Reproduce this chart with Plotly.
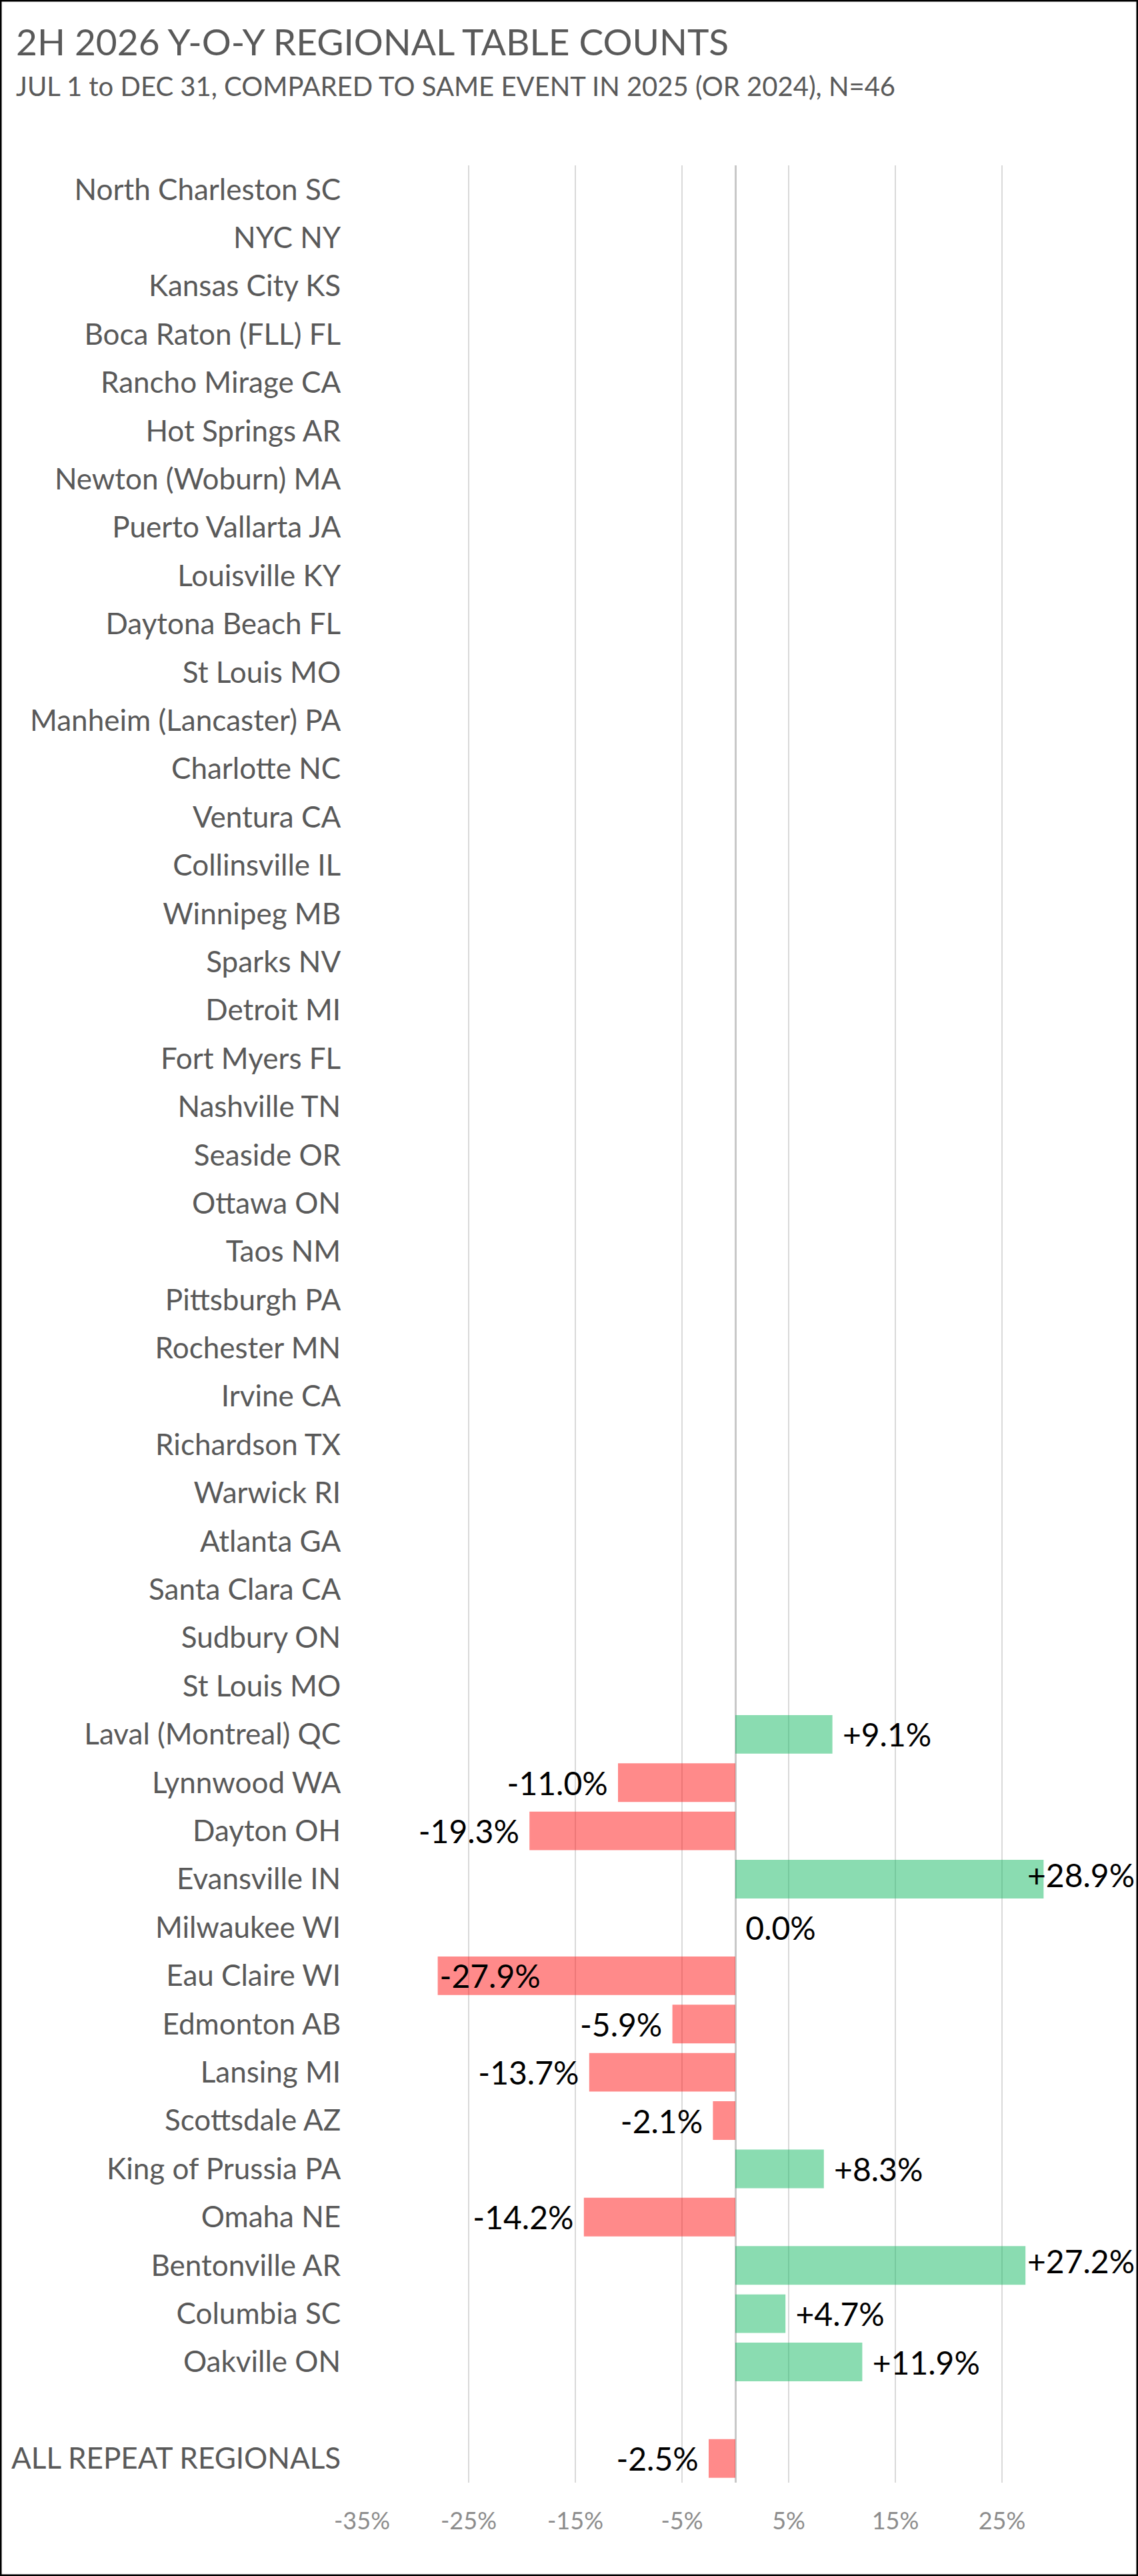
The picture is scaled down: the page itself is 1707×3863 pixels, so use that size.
import plotly.graph_objects as go

# ---- data ----
regions = [
    "North Charleston SC", "NYC NY", "Kansas City KS", "Boca Raton (FLL) FL",
    "Rancho Mirage CA", "Hot Springs AR", "Newton (Woburn) MA", "Puerto Vallarta JA",
    "Louisville KY", "Daytona Beach FL", "St Louis MO", "Manheim (Lancaster) PA",
    "Charlotte NC", "Ventura CA", "Collinsville IL", "Winnipeg MB", "Sparks NV",
    "Detroit MI", "Fort Myers FL", "Nashville TN", "Seaside OR", "Ottawa ON",
    "Taos NM", "Pittsburgh PA", "Rochester MN", "Irvine CA", "Richardson TX",
    "Warwick RI", "Atlanta GA", "Santa Clara CA", "Sudbury ON", "St Louis MO",
    "Laval (Montreal) QC", "Lynnwood WA", "Dayton OH", "Evansville IN",
    "Milwaukee WI", "Eau Claire WI", "Edmonton AB", "Lansing MI", "Scottsdale AZ",
    "King of Prussia PA", "Omaha NE", "Bentonville AR", "Columbia SC", "Oakville ON",
    "", "ALL REPEAT REGIONALS",
]
# percent change vs prior year; None = no comparison yet
yoy_pct = [None] * 32 + [
    9.1, -11.0, -19.3, 28.9, 0.0, -27.9, -5.9, -13.7, -2.1, 8.3, -14.2, 27.2, 4.7, 11.9,
    None, -2.5,
]
x_ticks = [-35, -25, -15, -5, 5, 15, 25]
x_tick_labels = ["-35%", "-25%", "-15%", "-5%", "5%", "15%", "25%"]

# ---- geometry (pixels) ----
W, H = 1707, 3863
ML, MT, MB = 543, 248, 140
PW, PH = W - ML, H - MT - MB
X_MIN = -35
PX_PER_PCT = 16.0                      # 10 % per 160 px, as in the original
X_MAX = X_MIN + PW / PX_PER_PCT        # plot area runs to the chart's right edge
LABEL_ROOM = 10.8                      # width of a "+xx.x%" label, in % units


def py(y_px):
    """pixel row from the top of the figure -> paper y"""
    return 1 - (y_px - MT) / PH


def px(x_px):
    return (x_px - ML) / PW


GREEN = "rgba(22,185,100,0.5)"
RED = "rgba(255,22,22,0.5)"
NB = "\u00a0"
LABEL_FONT = dict(family="Lato", size=48, color="black")

ypos = list(range(len(regions)))
colors, texts, textpos = [], [], []
edge_y, edge_text = [], []             # labels pushed back inside the chart edge
for i, v in enumerate(yoy_pct):
    if v is None:
        colors.append(GREEN)
        texts.append("")
        textpos.append("none")
    elif v < 0:
        colors.append(RED)
        texts.append(f"{v:.1f}%" + NB)
        textpos.append("outside")
    else:
        colors.append(GREEN)
        lab = f"+{v:.1f}%" if v > 0 else f"{v:.1f}%"
        if v + LABEL_ROOM > X_MAX:
            texts.append("")
            textpos.append("none")
            edge_y.append(i)
            edge_text.append(lab)
        else:
            texts.append(NB + lab)
            textpos.append("outside")

# label that would run off the left edge sits inside the bar tip (as Excel does)
lowest = min(v for v in yoy_pct if v is not None)
i_low = yoy_pct.index(lowest)
texts[i_low] = f"{lowest:.1f}%"
textpos[i_low] = "inside"

fig = go.Figure()
fig.add_trace(go.Bar(
    x=yoy_pct, y=ypos, orientation="h",
    marker=dict(color=colors, line=dict(width=0)),
    text=texts, textposition=textpos, insidetextanchor="end",
    textfont=LABEL_FONT,
    constraintext="none", cliponaxis=False,
    hoverinfo="skip",
))
fig.add_trace(go.Scatter(
    x=[X_MAX - 0.3] * len(edge_y), y=edge_y, mode="text", text=edge_text,
    textposition="middle left", textfont=LABEL_FONT, cliponaxis=False,
    hoverinfo="skip",
))

fig.update_layout(
    width=W, height=H, autosize=False,
    margin=dict(l=ML, r=0, t=MT, b=MB, pad=0),
    paper_bgcolor="white", plot_bgcolor="white",
    bargap=0.2, showlegend=False,
    font=dict(family="Lato", color="#595959"),
    xaxis=dict(
        range=[X_MIN, X_MAX], tickvals=x_ticks, ticktext=x_tick_labels,
        showgrid=True, gridcolor="#D9D9D9", gridwidth=2,
        zeroline=True, zerolinecolor="#C8C8C8", zerolinewidth=3,
        ticks="outside", ticklen=26, tickcolor="rgba(0,0,0,0)",
        tickfont=dict(family="Lato", size=36, color="#8C8C8C"),
        showline=False, fixedrange=True, automargin=False,
    ),
    yaxis=dict(
        range=[len(regions) - 0.5, -0.5], tickvals=ypos, ticktext=regions,
        showgrid=False, zeroline=False, showline=False,
        ticks="outside", ticklen=22, tickcolor="rgba(0,0,0,0)",
        tickfont=dict(family="Lato", size=44, color="#595959"),
        fixedrange=True, automargin=False,
    ),
    annotations=[
        dict(text="2H 2026 Y-O-Y REGIONAL TABLE COUNTS", xref="paper", yref="paper",
             x=px(22), y=py(62), xanchor="left", yanchor="middle", showarrow=False,
             font=dict(family="Lato", size=55, color="#595959")),
        dict(text="JUL 1 to DEC 31, COMPARED TO SAME EVENT IN 2025 (OR 2024), N=46",
             xref="paper", yref="paper", x=px(22), y=py(129), xanchor="left",
             yanchor="middle", showarrow=False,
             font=dict(family="Lato", size=40, color="#595959")),
    ],
    shapes=[
        dict(type="rect", xref="paper", yref="paper",
             x0=px(1), x1=px(W - 1), y0=py(H - 1), y1=py(1),
             line=dict(color="black", width=3), fillcolor="rgba(0,0,0,0)"),
    ],
)

fig.write_html("out.html", config={"displayModeBar": False},
               post_script="document.body.style.margin='0';")
